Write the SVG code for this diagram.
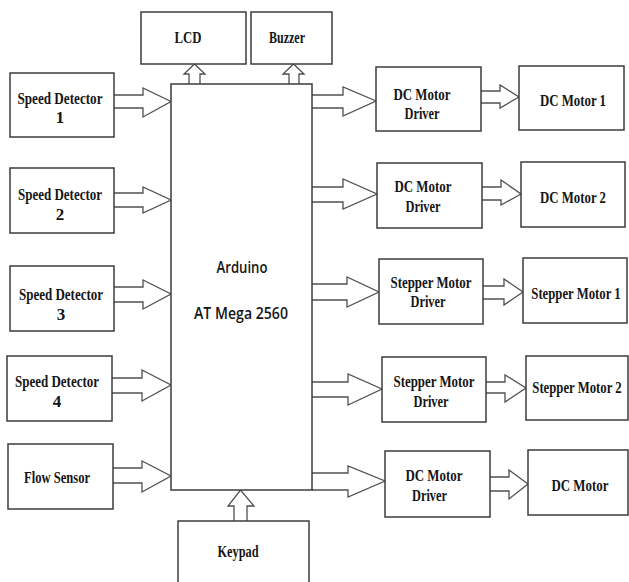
<svg xmlns="http://www.w3.org/2000/svg" width="629" height="582" viewBox="0 0 629 582">
<style>
.box{fill:#fff;stroke:#3c3c3c;stroke-width:1.5}
.arr{fill:#fff;stroke:#505050;stroke-width:1.3;stroke-linejoin:miter}
.t{font-family:"Liberation Serif","Times New Roman",serif;font-weight:bold;font-size:17px;fill:#151515;text-anchor:middle}
.a{font-family:"Open Sans","Liberation Sans",Arial,sans-serif;font-weight:600;font-size:17px;fill:#151515;text-anchor:middle}
</style>
<rect width="629" height="582" fill="#fff"/>
<g id="connectors">
<path class="arr" d="M114,95 H143 V88 L171,101.5 L143,117 V108 H114"/>
<path class="arr" d="M114,193 H143 V187 L171,200 L143,213 V207 H114"/>
<path class="arr" d="M114,287 H143 V280 L171,294 L143,309 V302 H114"/>
<path class="arr" d="M112,378 H142 V370 L171,385 L142,401 V393 H112"/>
<path class="arr" d="M113,468 H142 V461 L171,476 L142,492 V483 H113"/>
<path class="arr" d="M189,84 V74 H184 L194.5,64 L205,74 H200 V84"/>
<path class="arr" d="M289,84 V74 H283 L293.5,64 L304,74 H299 V84"/>
<path class="arr" d="M234,521 V506 H228 L240.5,490 L254,506 H247 V521"/>
<path class="arr" d="M312,95 H343 V87 L376,101 L343,116 V108 H312"/>
<path class="arr" d="M312,187 H343 V179 L377,194 L343,209 V202 H312"/>
<path class="arr" d="M312,284 H347 V277 L379,292 L347,307 V300 H312"/>
<path class="arr" d="M312,382 H348 V374 L382,389 L348,405 V397 H312"/>
<path class="arr" d="M312,473 H348 V466 L385,481 L348,497 V490 H312"/>
<path class="arr" d="M481,91 H500 V85 L519,97 L500,108 V103 H481"/>
<path class="arr" d="M482,187 H501 V180 L521,194 L501,205 V200 H482"/>
<path class="arr" d="M483,286 H504 V279 L523,292 L504,305 V299 H483"/>
<path class="arr" d="M486,382 H505 V375 L526,388 L505,402 V393 H486"/>
<path class="arr" d="M490,477 H509 V470 L528,484 L509,499 V491 H490"/>
</g>
<g id="arduino"><rect class="box" x="171" y="84" width="141" height="406"/>
<text class="a" x="242" y="273" textLength="51" lengthAdjust="spacingAndGlyphs">Arduino</text>
<text class="a" x="241" y="319" textLength="94" lengthAdjust="spacingAndGlyphs">AT Mega 2560</text></g>
<g id="lcd"><rect class="box" x="141" y="12" width="105" height="52"/>
<text class="t" x="188" y="42.5" textLength="27" lengthAdjust="spacingAndGlyphs">LCD</text></g>
<g id="buzzer"><rect class="box" x="251" y="12" width="81" height="52"/>
<text class="t" x="287" y="42.5" textLength="36" lengthAdjust="spacingAndGlyphs">Buzzer</text></g>
<g id="sd1"><rect class="box" x="10" y="73" width="104" height="64"/>
<text class="t" x="60" y="103.5" textLength="85" lengthAdjust="spacingAndGlyphs">Speed Detector</text>
<text class="t" x="60" y="122.5">1</text></g>
<g id="sd2"><rect class="box" x="10" y="168" width="104" height="65"/>
<text class="t" x="60" y="199.5" textLength="84" lengthAdjust="spacingAndGlyphs">Speed Detector</text>
<text class="t" x="60" y="219.5">2</text></g>
<g id="sd3"><rect class="box" x="10" y="266" width="104" height="65"/>
<text class="t" x="61" y="299.5" textLength="84" lengthAdjust="spacingAndGlyphs">Speed Detector</text>
<text class="t" x="61" y="319.5">3</text></g>
<g id="sd4"><rect class="box" x="7" y="356" width="105" height="65"/>
<text class="t" x="57" y="386.5" textLength="84" lengthAdjust="spacingAndGlyphs">Speed Detector</text>
<text class="t" x="57" y="406.5">4</text></g>
<g id="flow"><rect class="box" x="8" y="444" width="105" height="65"/>
<text class="t" x="57" y="482.5" textLength="66" lengthAdjust="spacingAndGlyphs">Flow Sensor</text></g>
<g id="keypad"><rect class="box" x="178" y="521" width="131" height="70"/>
<text class="t" x="238" y="557" textLength="41" lengthAdjust="spacingAndGlyphs">Keypad</text></g>
<g id="dcd1"><rect class="box" x="376" y="67" width="105" height="64"/>
<text class="t" x="422" y="100" textLength="57" lengthAdjust="spacingAndGlyphs">DC Motor</text>
<text class="t" x="422" y="118.5" textLength="35" lengthAdjust="spacingAndGlyphs">Driver</text></g>
<g id="dcd2"><rect class="box" x="377" y="163" width="105" height="65"/>
<text class="t" x="423" y="192" textLength="57" lengthAdjust="spacingAndGlyphs">DC Motor</text>
<text class="t" x="423" y="211.5" textLength="35" lengthAdjust="spacingAndGlyphs">Driver</text></g>
<g id="smd1"><rect class="box" x="379" y="259" width="104" height="65"/>
<text class="t" x="431" y="288" textLength="81" lengthAdjust="spacingAndGlyphs">Stepper Motor</text>
<text class="t" x="428" y="307" textLength="35" lengthAdjust="spacingAndGlyphs">Driver</text></g>
<g id="smd2"><rect class="box" x="382" y="357" width="104" height="65"/>
<text class="t" x="434" y="387" textLength="81" lengthAdjust="spacingAndGlyphs">Stepper Motor</text>
<text class="t" x="431" y="407" textLength="35" lengthAdjust="spacingAndGlyphs">Driver</text></g>
<g id="dcd3"><rect class="box" x="385" y="451" width="105" height="66"/>
<text class="t" x="434" y="480.5" textLength="57" lengthAdjust="spacingAndGlyphs">DC Motor</text>
<text class="t" x="429.5" y="500.5" textLength="35" lengthAdjust="spacingAndGlyphs">Driver</text></g>
<g id="dcm1"><rect class="box" x="519" y="66" width="105" height="64"/>
<text class="t" x="573" y="105.5" textLength="66" lengthAdjust="spacingAndGlyphs">DC Motor 1</text></g>
<g id="dcm2"><rect class="box" x="521" y="162" width="104" height="65"/>
<text class="t" x="573" y="202.5" textLength="66" lengthAdjust="spacingAndGlyphs">DC Motor 2</text></g>
<g id="sm1"><rect class="box" x="523" y="258" width="104" height="65"/>
<text class="t" transform="translate(576,298.5) scale(0.75,1)" x="0" y="0">Stepper Motor 1</text></g>
<g id="sm2"><rect class="box" x="526" y="356" width="102" height="64"/>
<text class="t" transform="translate(577,393) scale(0.75,1)" x="0" y="0">Stepper Motor 2</text></g>
<g id="dcm"><rect class="box" x="528" y="450" width="100" height="65"/>
<text class="t" x="580" y="490.5" textLength="57" lengthAdjust="spacingAndGlyphs">DC Motor</text></g>
</svg>
